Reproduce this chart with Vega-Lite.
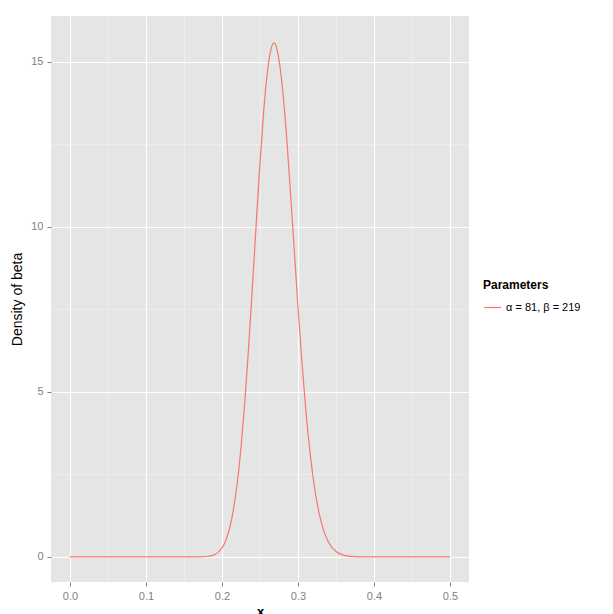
{
  "$schema": "https://vega.github.io/schema/vega-lite/v6.json",
  "width": 418,
  "height": 566,
  "autosize": {"type": "none"},
  "padding": {"left": 51, "top": 16, "right": 144, "bottom": 32},
  "background": "white",
  "config": {
    "font": "Liberation Sans",
    "view": {"fill": "#E5E5E5", "stroke": null},
    "axis": {"domain": false, "labelColor": "#7F7F7F", "labelFontSize": 11, "tickColor": "#7F7F7F", "tickSize": 4, "titleColor": "#000000", "titleFontWeight": "normal"}
  },
  "data": {"values": [
    {"x": 0.0, "density": 0, "param": "α = 81, β = 219"},
    {"x": 0.05, "density": 0, "param": "α = 81, β = 219"},
    {"x": 0.1, "density": 0, "param": "α = 81, β = 219"},
    {"x": 0.15, "density": 0.00002, "param": "α = 81, β = 219"},
    {"x": 0.16, "density": 0.0002, "param": "α = 81, β = 219"},
    {"x": 0.17, "density": 0.0019, "param": "α = 81, β = 219"},
    {"x": 0.18, "density": 0.0129, "param": "α = 81, β = 219"},
    {"x": 0.19, "density": 0.0673, "param": "α = 81, β = 219"},
    {"x": 0.2, "density": 0.272, "param": "α = 81, β = 219"},
    {"x": 0.205, "density": 0.5, "param": "α = 81, β = 219"},
    {"x": 0.21, "density": 0.868, "param": "α = 81, β = 219"},
    {"x": 0.215, "density": 1.427, "param": "α = 81, β = 219"},
    {"x": 0.22, "density": 2.233, "param": "α = 81, β = 219"},
    {"x": 0.225, "density": 3.317, "param": "α = 81, β = 219"},
    {"x": 0.23, "density": 4.693, "param": "α = 81, β = 219"},
    {"x": 0.235, "density": 6.34, "param": "α = 81, β = 219"},
    {"x": 0.24, "density": 8.175, "param": "α = 81, β = 219"},
    {"x": 0.245, "density": 10.09, "param": "α = 81, β = 219"},
    {"x": 0.25, "density": 11.94, "param": "α = 81, β = 219"},
    {"x": 0.255, "density": 13.54, "param": "α = 81, β = 219"},
    {"x": 0.26, "density": 14.745, "param": "α = 81, β = 219"},
    {"x": 0.265, "density": 15.43, "param": "α = 81, β = 219"},
    {"x": 0.2685, "density": 15.58, "param": "α = 81, β = 219"},
    {"x": 0.27, "density": 15.55, "param": "α = 81, β = 219"},
    {"x": 0.275, "density": 15.06, "param": "α = 81, β = 219"},
    {"x": 0.28, "density": 14.107, "param": "α = 81, β = 219"},
    {"x": 0.285, "density": 12.73, "param": "α = 81, β = 219"},
    {"x": 0.29, "density": 11.08, "param": "α = 81, β = 219"},
    {"x": 0.295, "density": 9.32, "param": "α = 81, β = 219"},
    {"x": 0.3, "density": 7.575, "param": "α = 81, β = 219"},
    {"x": 0.305, "density": 5.96, "param": "α = 81, β = 219"},
    {"x": 0.31, "density": 4.532, "param": "α = 81, β = 219"},
    {"x": 0.315, "density": 3.34, "param": "α = 81, β = 219"},
    {"x": 0.32, "density": 2.384, "param": "α = 81, β = 219"},
    {"x": 0.325, "density": 1.649, "param": "α = 81, β = 219"},
    {"x": 0.33, "density": 1.105, "param": "α = 81, β = 219"},
    {"x": 0.335, "density": 0.72, "param": "α = 81, β = 219"},
    {"x": 0.34, "density": 0.4545, "param": "α = 81, β = 219"},
    {"x": 0.35, "density": 0.1656, "param": "α = 81, β = 219"},
    {"x": 0.36, "density": 0.0537, "param": "α = 81, β = 219"},
    {"x": 0.37, "density": 0.0155, "param": "α = 81, β = 219"},
    {"x": 0.38, "density": 0.004, "param": "α = 81, β = 219"},
    {"x": 0.39, "density": 0.001, "param": "α = 81, β = 219"},
    {"x": 0.4, "density": 0.0002, "param": "α = 81, β = 219"},
    {"x": 0.45, "density": 0, "param": "α = 81, β = 219"},
    {"x": 0.5, "density": 0, "param": "α = 81, β = 219"}
  ]},
  "resolve": {"axis": {"x": "independent", "y": "independent"}},
  "layer": [
    {
      "mark": {"type": "line", "opacity": 0},
      "encoding": {
        "x": {"field": "x", "type": "quantitative", "scale": {"domain": [-0.025, 0.525], "nice": false, "zero": false},
              "axis": {"orient": "bottom", "values": [0.05, 0.15, 0.25, 0.35, 0.45], "grid": true, "gridColor": "#F2F2F2", "gridWidth": 0.6, "labels": false, "ticks": false, "title": null}},
        "y": {"field": "density", "type": "quantitative", "scale": {"domain": [-0.76, 16.39], "nice": false, "zero": false},
              "axis": {"orient": "left", "values": [2.5, 7.5, 12.5], "grid": true, "gridColor": "#F2F2F2", "gridWidth": 0.6, "labels": false, "ticks": false, "title": null}}
      }
    },
    {
      "mark": {"type": "line", "strokeWidth": 1.2, "interpolate": "monotone"},
      "encoding": {
        "x": {"field": "x", "type": "quantitative",
              "axis": {"orient": "bottom", "values": [0, 0.1, 0.2, 0.3, 0.4, 0.5], "format": ".1f", "grid": true, "gridColor": "#FFFFFF", "gridWidth": 1.2, "labelPadding": 4, "title": "x", "titleFontSize": 13, "titleFontWeight": "bold", "titlePadding": 4}},
        "y": {"field": "density", "type": "quantitative",
              "axis": {"orient": "left", "values": [0, 5, 10, 15], "grid": true, "gridColor": "#FFFFFF", "gridWidth": 1.2, "labelPadding": 4, "title": "Density of beta", "titleFontSize": 14, "titlePadding": 6}},
        "color": {"field": "param", "type": "nominal", "scale": {"range": ["#F8766D"]},
                  "legend": {"title": "Parameters", "orient": "none", "legendX": 432, "legendY": 264, "symbolType": "stroke", "symbolStrokeWidth": 1.2, "symbolSize": 289, "titleFontSize": 12, "titleFontWeight": "bold", "titleColor": "#000000", "labelFontSize": 11, "labelColor": "#000000", "titlePadding": 6}}
      }
    }
  ]
}
